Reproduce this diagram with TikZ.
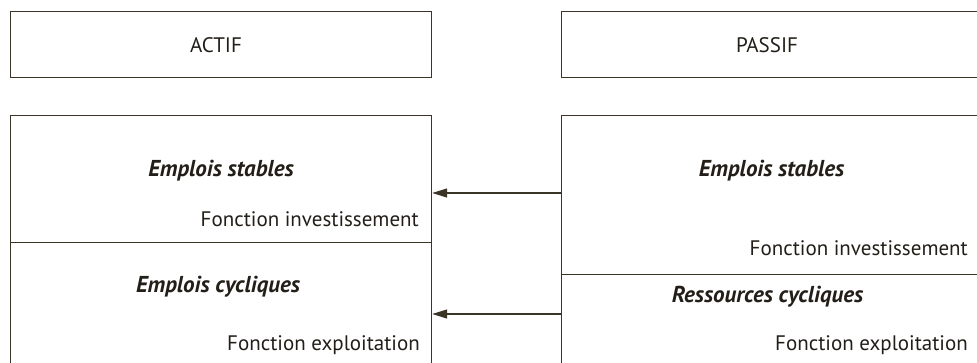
\documentclass[tikz,border=0pt]{standalone}
\usepackage{fontspec}
\setmainfont{PT Sans}
\usetikzlibrary{arrows.meta}
\definecolor{ln}{HTML}{3B3528}
\definecolor{tx}{HTML}{231F18}
\begin{document}
\begin{tikzpicture}[x=1pt,y=-1pt,
  box/.style={draw=ln,line width=1.2pt,minimum width=421pt,inner sep=0pt,anchor=north west},
  lab/.style={text=tx,font=\fontsize{21}{24}\selectfont,inner sep=0pt},
  tit/.style={text=tx,font=\fontsize{23}{26}\selectfont\bfseries\itshape,inner sep=0pt},
  arr/.style={draw=ln,line width=1.2pt,-{Triangle[length=15pt,width=9pt]}}]
\useasboundingbox (0,0) rectangle (977,362);
\fill[white] (0,0) rectangle (977,362);
% boxes
\node[box,minimum height=66pt] (actif) at (10,11) {};
\node[box,minimum height=66pt] (passif) at (561,11) {};
\node[box,minimum height=127pt] (es) at (10,115) {};
\node[box,minimum height=140pt] (ec) at (10,242) {};
\node[box,minimum height=159pt] (rs) at (561,115) {};
\node[box,minimum height=110pt] (rc) at (561,274) {};
% texts
\node[lab] (tA) at (216,45) {ACTIF};
\node[lab] (tP) at (767,45) {PASSIF};
\node[tit] (es1) at (221,171) {Emplois stables};
\node[lab,anchor=mid east] (fi1) at (419,224) {Fonction investissement};
\node[tit] (ec1) at (218,287) {Emplois cycliques};
\node[lab,anchor=mid east] (fe1) at (420,348) {Fonction exploitation};
\node[tit] (rs1) at (771.5,171) {Emplois stables};
\node[lab,anchor=mid east] (fi2) at (968,253) {Fonction investissement};
\node[tit] (rc1) at (767.5,297) {Ressources cycliques};
\node[lab,anchor=mid east] (fe2) at (968,348) {Fonction exploitation};
% arrows
\coordinate (s1) at (rs.west |- 0,193);
\coordinate (e1) at (es.east |- 0,193);
\coordinate (s2) at (rc.west |- 0,314);
\coordinate (e2) at (ec.east |- 0,314);
\draw[arr] (s1) -- (e1);
\draw[arr] (s2) -- (e2);
\end{tikzpicture}
\end{document}
